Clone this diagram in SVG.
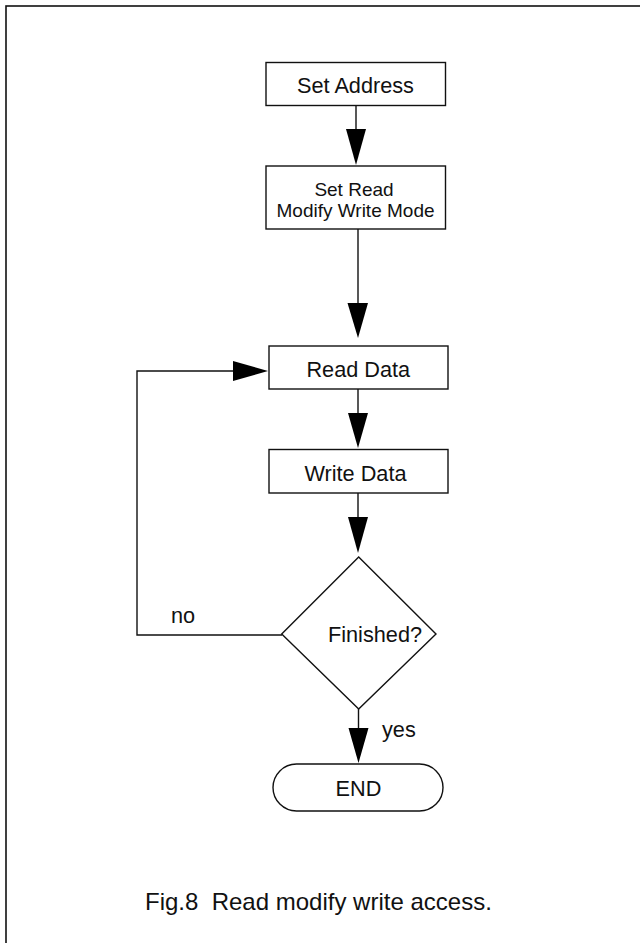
<svg xmlns="http://www.w3.org/2000/svg" width="640" height="943" viewBox="0 0 640 943">
<style>
.box{fill:#fff;stroke:#111;stroke-width:1.4}
.ln{fill:none;stroke:#111;stroke-width:1.4}
.ah{fill:#000;stroke:none}
text{font-family:"Liberation Sans",Arial,sans-serif;fill:#111;text-anchor:middle}
.t22{font-size:21.7px}
.t19{font-size:19px}
.cap{font-size:24px;text-anchor:start;white-space:pre}
.lbl{font-size:21.7px;text-anchor:start}
</style>
<rect x="0" y="0" width="640" height="943" fill="#fff"/>
<rect x="6" y="6" width="700" height="1000" fill="none" stroke="#111" stroke-width="1.6"/>
<g id="connectors">
<line class="ln" x1="356" y1="106" x2="356" y2="130"/>
<polygon class="ah" points="346,129 366,129 356,165"/>
<line class="ln" x1="358" y1="229" x2="358" y2="304"/>
<polygon class="ah" points="347.5,303 368,303 358,338"/>
<line class="ln" x1="358" y1="389" x2="358" y2="414"/>
<polygon class="ah" points="348,413 368,413 358,448"/>
<line class="ln" x1="358" y1="493" x2="358" y2="518"/>
<polygon class="ah" points="348,517 368,517 358,553"/>
<polyline class="ln" points="282,635 137,635 137,371 234,371"/>
<polygon class="ah" points="233,361 233,381 268,371"/>
<line class="ln" x1="358.5" y1="709" x2="358.5" y2="729"/>
<polygon class="ah" points="348.5,728 368.5,728 358.5,763"/>
<text class="lbl" x="171" y="623">no</text>
<text class="lbl" x="382" y="737">yes</text>
</g>
<g id="set-address">
<rect class="box" x="266" y="62.5" width="179.5" height="43"/>
<text class="t22" x="355.5" y="92.5">Set Address</text>
</g>
<g id="set-rmw-mode">
<rect class="box" x="266" y="166" width="179.5" height="63"/>
<text class="t19" x="354" y="195.5">Set Read</text>
<text class="t19" x="355.5" y="216.5">Modify Write Mode</text>
</g>
<g id="read-data">
<rect class="box" x="269" y="346" width="179" height="43"/>
<text class="t22" x="358.3" y="376.5">Read Data</text>
</g>
<g id="write-data">
<rect class="box" x="269" y="449.5" width="179" height="43.5"/>
<text class="t22" x="355.5" y="480.5">Write Data</text>
</g>
<g id="finished">
<polygon class="box" points="358.7,557 436,634 358.7,709 281.7,634"/>
<text class="t22" x="375" y="641.5">Finished?</text>
</g>
<g id="end">
<rect class="box" x="273" y="764" width="170" height="47" rx="23.5" ry="23.5"/>
<text class="t22" x="358.5" y="795.5">END</text>
</g>
<text class="cap" x="145" y="910" xml:space="preserve">Fig.8  Read modify write access.</text>
</svg>
